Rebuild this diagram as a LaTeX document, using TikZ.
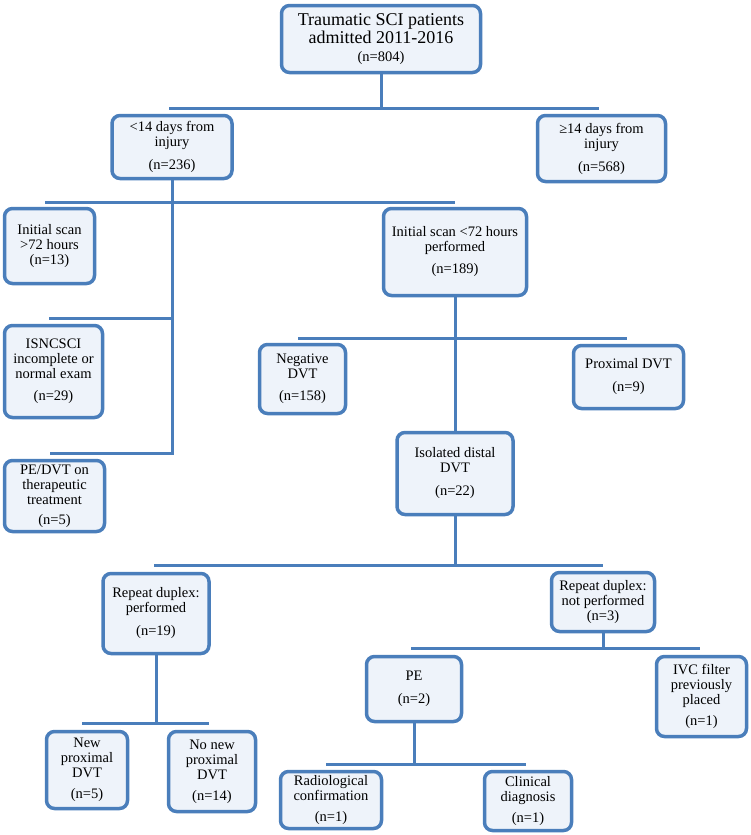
\documentclass[tikz,border=0pt]{standalone}
\usepackage{fontspec}
\setmainfont{Liberation Serif}
\definecolor{ln}{HTML}{4A7EBB}
\definecolor{bx}{HTML}{EEF3FA}
\begin{document}
\begin{tikzpicture}[x=1pt,y=-1pt,
  box/.style={draw=ln, line width=3.5pt, fill=bx, rounded corners=8pt, align=center, inner sep=0pt, font=\fontsize{14.5}{15}\selectfont},
  conn/.style={draw=ln, line width=3pt}]
\useasboundingbox (0,0) rectangle (750,835);
% boxes
\node[box, minimum width=199, minimum height=67] (top) at (381,39) {\fontsize{18}{18.5}\selectfont Traumatic SCI patients\\\fontsize{18}{18.5}\selectfont admitted 2011-2016\\[3pt]\fontsize{14.5}{15}\selectfont(n=804)};
\node[box, minimum width=120, minimum height=63] (lt14) at (172,147) {<14 days from\\injury\\[8pt](n=236)};
\node[box, minimum width=128, minimum height=66] (ge14) at (601.5,148.5) {≥14 days from\\injury\\[8pt](n=568)};
\node[box, minimum width=90, minimum height=75] (scan72) at (49.5,246) {Initial scan\\>72 hours\\(n=13)};
\node[box, minimum width=143, minimum height=87] (scanlt) at (455,252) {Initial scan <72 hours\\performed\\[7pt](n=189)};
\node[box, minimum width=98, minimum height=92] (isn) at (53.5,371.5) {ISNCSCI\\incomplete or\\normal exam\\[7pt](n=29)};
\node[box, minimum width=100, minimum height=71] (pedvt) at (54.5,496) {PE/DVT on\\therapeutic\\treatment\\[5pt](n=5)};
\node[box, minimum width=86, minimum height=69] (neg) at (302.5,379) {Negative\\DVT\\[7pt](n=158)};
\node[box, minimum width=110, minimum height=63] (prox) at (628.5,377) {Proximal DVT\\[8pt](n=9)};
\node[box, minimum width=116, minimum height=82] (iso) at (455,473.5) {Isolated distal\\DVT\\[8pt](n=22)};
\node[box, minimum width=106, minimum height=80] (rdp) at (156,613.5) {Repeat duplex:\\performed\\[8pt](n=19)};
\node[box, minimum width=81, minimum height=77] (newp) at (87,770) {New\\proximal\\DVT\\[6pt](n=5)};
\node[box, minimum width=87, minimum height=80] (nonew) at (212,771.5) {No new\\proximal\\DVT\\[6pt](n=14)};
\node[box, minimum width=103, minimum height=59] (rdnp) at (603,602) {Repeat duplex:\\not performed\\(n=3)};
\node[box, minimum width=95, minimum height=65] (pe) at (414,689) {PE\\[8pt](n=2)};
\node[box, minimum width=90, minimum height=80] (ivc) at (701.5,696.5) {IVC filter\\previously\\placed\\[6pt](n=1)};
\node[box, minimum width=101, minimum height=57] (rad) at (331,800) {Radiological\\confirmation\\[6pt](n=1)};
\node[box, minimum width=87, minimum height=59] (clin) at (528,801) {Clinical\\diagnosis\\[6pt](n=1)};
% bus coordinates
\coordinate (b1l) at (169,108); \coordinate (b1r) at (599,108);
\coordinate (b2l) at (45,202);  \coordinate (b2r) at (455,202);
\coordinate (b3l) at (49,318);
\coordinate (b4l) at (50,453);
\coordinate (b5l) at (298,338); \coordinate (b5r) at (627,338);
\coordinate (b6l) at (154,565); \coordinate (b6r) at (603,565);
\coordinate (b7l) at (82,723);  \coordinate (b7r) at (209,723);
\coordinate (b8l) at (411,648); \coordinate (b8r) at (700,648);
\coordinate (b9l) at (326,764); \coordinate (b9r) at (526,764);
% connectors
\draw[conn] (top.south) -- (top.south |- b1l);
\draw[conn] (b1l) -- (b1r);
\draw[conn] (lt14.south) -- (lt14.south |- b4l) -- (b4l);
\draw[conn] (b2l) -- (b2r);
\draw[conn] (b3l) -- (b3l -| lt14.south);
\draw[conn] (scanlt.south) -- (iso.north);
\draw[conn] (b5l) -- (b5r);
\draw[conn] (iso.south) -- (iso.south |- b6l);
\draw[conn] (b6l) -- (b6r);
\draw[conn] (rdp.south) -- (rdp.south |- b7l);
\draw[conn] (b7l) -- (b7r);
\draw[conn] (rdnp.south) -- (rdnp.south |- b8l);
\draw[conn] (b8l) -- (b8r);
\draw[conn] (pe.south) -- (pe.south |- b9l);
\draw[conn] (b9l) -- (b9r);
\end{tikzpicture}
\end{document}
